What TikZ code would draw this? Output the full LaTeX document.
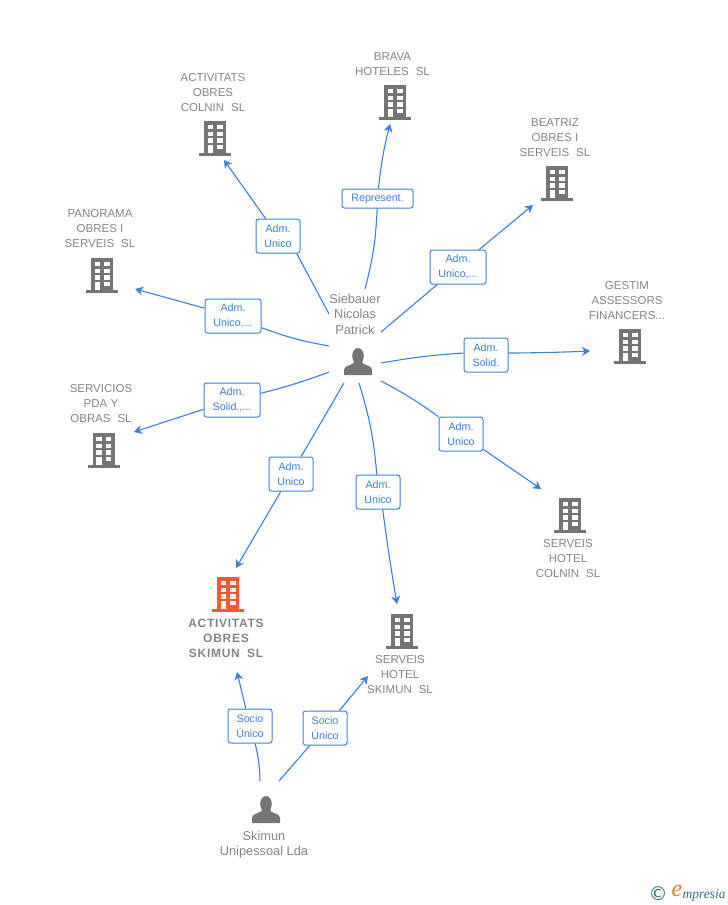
\documentclass[tikz,border=0pt]{standalone}
\usepackage{fontspec}
\setmainfont{Liberation Sans}
\newfontfamily\logoserif{Liberation Serif}
\newfontfamily\logosym{DejaVu Sans}
\newfontfamily\boldspaced[LetterSpace=6,BoldFont={Liberation Sans Bold}]{Liberation Sans}
\usetikzlibrary{arrows.meta}
\definecolor{linkblue}{HTML}{3C80E0}
\definecolor{labelblue}{HTML}{3F7FD6}
\definecolor{icongray}{HTML}{757575}
\definecolor{textgray}{HTML}{858585}
\definecolor{iconorange}{HTML}{FF5A2B}
\definecolor{logoteal}{HTML}{2F6F86}
\definecolor{logoorange}{HTML}{F08020}
\tikzset{
  x=1pt,y=-1pt,
  conn/.style={draw=linkblue,line width=1.1pt},
  arr/.style={conn,-{Stealth[length=8pt,width=9pt,inset=2.5pt]}},
  lab/.style={draw=linkblue,line width=1pt,rounded corners=2.5pt,fill=white,
    text=labelblue,font=\fontsize{10.7}{15}\selectfont,align=center,inner sep=0pt,
    minimum height=34pt},
  lab1/.style={lab,minimum width=44pt},
  lab2/.style={lab,minimum width=56pt},
  lab3/.style={lab,minimum width=71pt,minimum height=19pt},
  nmtxt/.style={text=textgray,font=\fontsize{11.5}{15}\selectfont,align=center,inner sep=0pt},
  pics/bld/.style={code={
    \fill[#1] (-11,0) rectangle (11,32);
    \fill[#1] (-16,32) rectangle (16,35);
    \foreach \r in {0,1,2,3}{
      \fill[white] (-7.3,{4+6.7*\r}) rectangle (-1.8,{8.2+6.7*\r});
      \fill[white] (2,{4+6.7*\r}) rectangle (7.5,{8.2+6.7*\r});
    }
    \fill[white] (-7.3,24.1) rectangle (-1.8,32);
  }},
  pics/person/.style={code={
    \fill[icongray] (0,0.8) ellipse (5.8 and 7.8);
    \fill[icongray] (-14,20) -- (-14,15) .. controls (-14,10.5) and (-7,10.5) .. (-4.5,8)
      -- (-4.5,3) -- (4.5,3) -- (4.5,8) .. controls (7,10.5) and (14,10.5) .. (14,15) -- (14,20)
      -- cycle;
  }},
}
\begin{document}
\begin{tikzpicture}
\useasboundingbox (0,0) rectangle (728,905);
% icons
\pic at (395,85) {bld=icongray};
\pic at (215,121) {bld=icongray};
\pic at (557,166) {bld=icongray};
\pic at (102,258) {bld=icongray};
\pic at (630,329) {bld=icongray};
\pic at (103.5,433) {bld=icongray};
\pic at (570,498) {bld=icongray};
\pic at (228,577) {bld=iconorange};
\pic at (402,614) {bld=icongray};
\pic at (358,355) {person};
\pic at (266,803) {person};
% names
\node[nmtxt] (nbrava) at (392.5,64) {BRAVA\\HOTELES\hspace{0.6em}SL};
\node[nmtxt] (ncolnin) at (213,92.5) {ACTIVITATS\\OBRES\\COLNIN\hspace{0.6em}SL};
\node[nmtxt] (nbeatriz) at (555,137.5) {BEATRIZ\\OBRES I\\SERVEIS\hspace{0.6em}SL};
\node[nmtxt] (npanorama) at (100,228.5) {PANORAMA\\OBRES I\\SERVEIS\hspace{0.6em}SL};
\node[nmtxt] (ngestim) at (627,300.5) {GESTIM\\ASSESSORS\\FINANCERS...};
\node[nmtxt] (nservicios) at (101,403.5) {SERVICIOS\\PDA Y\\OBRAS\hspace{0.6em}SL};
\node[nmtxt] (nhotelc) at (568,558.5) {SERVEIS\\HOTEL\\COLNIN\hspace{0.6em}SL};
\node[nmtxt,font=\boldspaced\fontsize{12}{15}\selectfont\bfseries] (nskimun) at (226,638) {ACTIVITATS\\OBRES\\SKIMUN\hspace{0.6em}SL};
\node[nmtxt] (nhotels) at (400,674.5) {SERVEIS\\HOTEL\\SKIMUN\hspace{0.6em}SL};
\node[nmtxt,font=\fontsize{12.8}{15.5}\selectfont] (nsieb) at (355,314) {Siebauer\\Nicolas\\Patrick};
\node[nmtxt,font=\fontsize{12.8}{15}\selectfont] (nsku) at (264,844.5) {Skimun\\Unipessoal Lda};
% free ends
\coordinate (s1) at (365,289); \coordinate (e1) at (390,124);
\coordinate (s2) at (329,314); \coordinate (e2) at (224,160);
\coordinate (s3) at (381,332); \coordinate (e3) at (533,205);
\coordinate (s4) at (381,363); \coordinate (e4) at (590,351);
\coordinate (s5) at (381,381); \coordinate (e5) at (541,489);
\coordinate (s6) at (359,383); \coordinate (e6) at (397,604);
\coordinate (s7) at (344,383); \coordinate (e7) at (236,568);
\coordinate (s8) at (329,372); \coordinate (e8) at (134,432);
\coordinate (s9) at (329,346); \coordinate (e9) at (135,289);
\coordinate (s10) at (260,781); \coordinate (e10) at (237,672);
\coordinate (s11) at (279,781); \coordinate (e11) at (368,676);
% labels
\node[lab3] (l1) at (377.5,198.5) {Represent.};
\node[lab1] (l2) at (278,236) {Adm.\\Unico};
\node[lab2] (l3) at (458,267) {Adm.\\Unico,...};
\node[lab1] (l4) at (486,355) {Adm.\\Solid.};
\node[lab1] (l5) at (461,434) {Adm.\\Unico};
\node[lab1] (l6) at (378,492) {Adm.\\Unico};
\node[lab1] (l7) at (291,474) {Adm.\\Unico};
\node[lab2] (l8) at (232,400) {Adm.\\Solid.,...};
\node[lab2] (l9) at (233,316) {Adm.\\Unico,...};
\node[lab1] (l10) at (250,726) {Socio\\Único};
\node[lab1] (l11) at (325,728) {Socio\\Único};
% connectors
\draw[conn] (s1) to[bend right=6] (l1);
\draw[arr] (l1) to[bend left=4] (e1);
\draw[conn] (s2) -- (l2.-43);
\draw[arr] (l2) -- (e2);
\draw[conn] (s3) -- (l3);
\draw[arr] (l3) -- (e3);
\draw[conn] (s4) to[bend left=3] (l4.175);
\draw[arr] (l4.5) to[bend right=1] (e4);
\draw[conn] (s5) to[bend left=4] (l5);
\draw[arr] (l5) -- (e5);
\draw[conn] (s6) to[bend left=6] (l6);
\draw[arr] (l6.-75) to[bend right=1] (e6);
\draw[conn] (s7) -- (l7);
\draw[arr] (l7) -- (e7);
\draw[conn] (s8) to[bend left=3] (l8);
\draw[arr] (l8) -- (e8);
\draw[conn] (s9) to[bend left=5] (l9);
\draw[arr] (l9) -- (e9);
\draw[conn] (s10) to[bend right=6] (l10);
\draw[arr] (l10) -- (e10);
\draw[conn] (s11) -- (l11);
\draw[arr] (l11) -- (e11);
% logo
\node[text=logoteal,inner sep=0pt,font=\logosym\fontsize{19}{19}\selectfont] (lc) at (658,894) {©};
\node[text=logoorange,inner sep=0pt,font=\logoserif\itshape\fontsize{24}{24}\selectfont] (le) at (677,891) {e};
\node[text=logoteal,inner sep=0pt,anchor=west,font=\logoserif\itshape\fontsize{13.5}{15}\selectfont] (lm) at (682.5,895) {mpresia};
\end{tikzpicture}
\end{document}
